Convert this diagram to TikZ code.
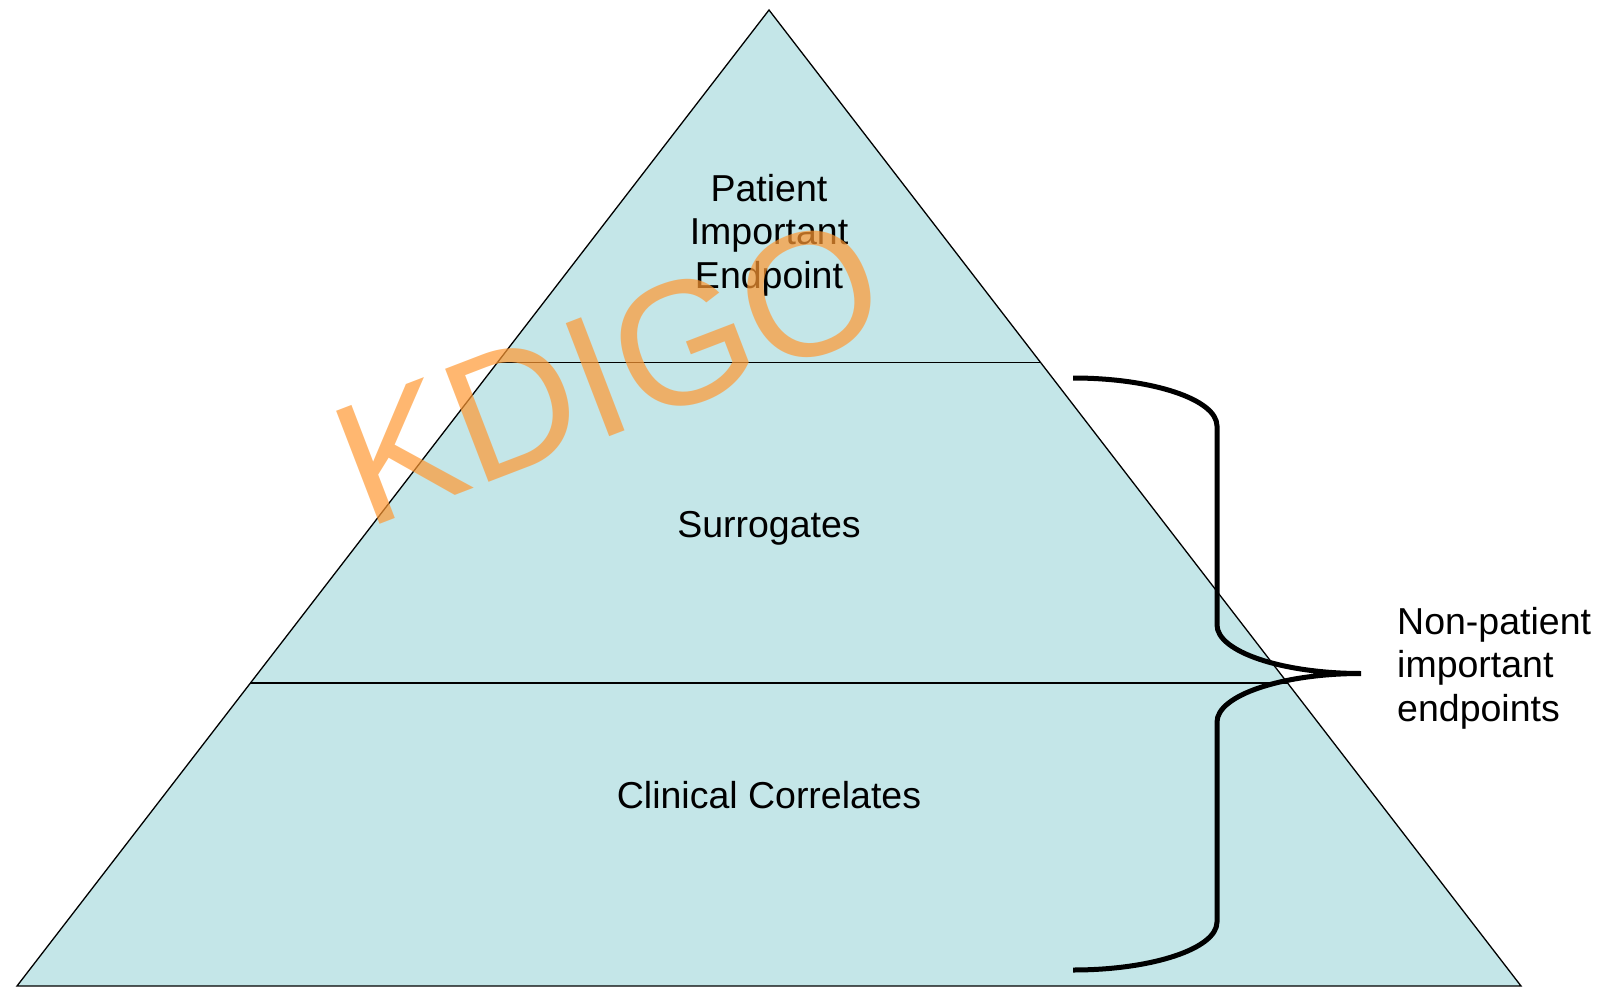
\documentclass[tikz,border=0pt]{standalone}
\usepackage{fontspec}
\setmainfont{Liberation Sans}
\usetikzlibrary{calc}

\definecolor{pyramidfill}{RGB}{196,230,232}
\definecolor{kdigoorange}{RGB}{255,153,51}

\begin{document}
\begin{tikzpicture}[
  x=1pt, y=-1pt,
  tier/.style={align=center, font=\fontsize{37.5}{43.5}\selectfont, inner sep=0pt},
  side/.style={align=left, font=\fontsize{37.5}{43.5}\selectfont, inner sep=0pt},
  brace/.style={line width=5pt},
  watermark/.style={font=\fontsize{176}{176}\selectfont, text=kdigoorange, opacity=0.7, inner sep=0pt}
]
  \useasboundingbox (0,0) rectangle (1601,987);

  % pyramid corners
  \coordinate (apex) at (769,10);
  \coordinate (bl) at (17,986);
  \coordinate (br) at (1521,986);

  \filldraw[fill=pyramidfill, draw=black, line width=1.3pt] (apex) -- (br) -- (bl) -- cycle;
  \draw[line width=1.3pt] ($(apex)!0.3612!(bl)$) -- ($(apex)!0.3612!(br)$);
  \draw[line width=1.3pt] ($(apex)!0.6895!(bl)$) -- ($(apex)!0.6895!(br)$);

  % base anchor sits on the last line
  \node (patient) [tier, anchor=base] at (769,288) {Patient\\Important\\Endpoint};
  \node (surrogates) [tier, anchor=base] at (769,537) {Surrogates};
  \node (clinical) [tier, anchor=base] at (769,808) {Clinical Correlates};

  % right brace over the two lower tiers
  \draw[brace] (1073,378) .. controls (1152.5,378) and (1217,399.5) .. (1217,426)
    -- (1217,625) .. controls (1217,651.5) and (1281.5,673.5) .. (1361,673.5)
    .. controls (1281.5,673.5) and (1217,695.5) .. (1217,722)
    -- (1217,922) .. controls (1217,948.5) and (1152.5,970) .. (1073,970);

  \node (nonpatient) [side, anchor=base west] at (1397,721) {Non-patient\\important\\endpoints};

  \node (kdigo) [watermark, rotate=21, anchor=base west] at (366,530) {KDIGO};
\end{tikzpicture}
\end{document}
